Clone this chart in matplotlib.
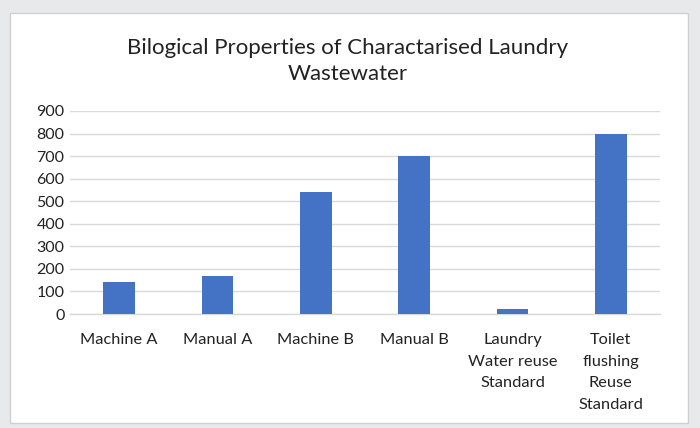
import matplotlib
matplotlib.use("Agg")
import matplotlib.pyplot as plt
from matplotlib.patches import Rectangle

categories = ["Machine A", "Manual A", "Machine B", "Manual B",
              "Laundry\nWater reuse\nStandard", "Toilet\nflushing\nReuse\nStandard"]
values = [140, 170, 540, 700, 20, 800]
yticks = [0, 100, 200, 300, 400, 500, 600, 700, 800, 900]
title = "Bilogical Properties of Charactarised Laundry\nWastewater"

plt.rcParams['font.family'] = ['Lato', 'DejaVu Sans']

W, H = 700, 428
fig = plt.figure(figsize=(W/100, H/100), dpi=100, facecolor='#e8e9eb')
bg = Rectangle((10/W, 1-423/H), 678/W, 410/H, transform=fig.transFigure,
               facecolor='white', edgecolor='#d0d0d0', linewidth=1, zorder=-10)
fig.patches.append(bg)

ax = fig.add_axes([70/W, 1-314/H, 590/W, 203/H], zorder=1)
ax.set_facecolor('none')
x = range(len(categories))
ax.bar(x, values, width=0.32, color='#4472c4', zorder=3)
ax.set_xlim(-0.5, len(categories)-0.5)
ax.set_ylim(0, 900)
ax.set_yticks(yticks)
ax.set_yticklabels([str(v) for v in yticks], fontsize=11.5, color='#222222')
ax.set_xticks(list(x))
ax.set_xticklabels(categories, fontsize=11.8, color='#222222', linespacing=1.68, va='top')
ax.tick_params(axis='both', length=0)
ax.tick_params(axis='x', pad=14)
ax.tick_params(axis='y', pad=4)
ax.grid(axis='y', color='#d9d9d9', linewidth=1, zorder=0)
ax.set_axisbelow(True)
for s in ['top', 'right', 'left']:
    ax.spines[s].set_visible(False)
ax.spines['bottom'].set_color('#d9d9d9')
ax.spines['bottom'].set_linewidth(1)

fig.text(348/W, 1-61/H, title, ha='center', va='center', fontsize=16, color='#222222', linespacing=1.4)

fig.savefig('out.png', dpi=100, facecolor=fig.get_facecolor())
